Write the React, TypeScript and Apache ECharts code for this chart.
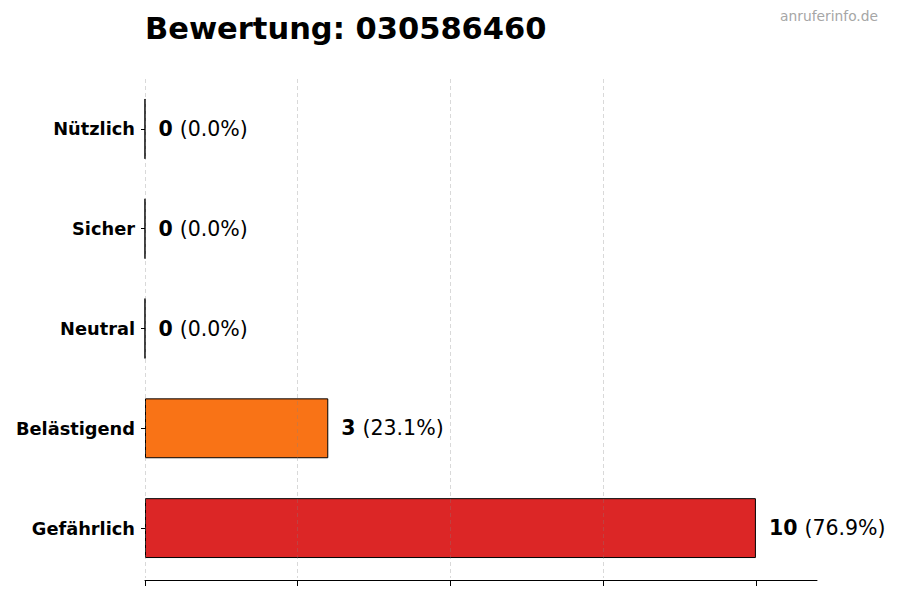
import { useEffect, useRef } from "react";
import * as echarts from "echarts";

// rating counts per category, bottom to top
const CATEGORIES = ["Gefährlich", "Belästigend", "Neutral", "Sicher", "Nützlich"];
const COUNTS = [10, 3, 0, 0, 0];
const BAR_COLORS = ["#dc2626", "#f97316", "#9ca3af", "#16a34a", "#2563eb"];
const X_TICKS = [0, 2.5, 5, 7.5, 10];
const TITLE = "Bewertung: 030586460";
const SOURCE = "anruferinfo.de";

const FONT = "DejaVu Sans";

export default function App() {
  const chartRef = useRef<HTMLDivElement>(null);

  useEffect(() => {
    if (!chartRef.current) return;
    const chart = echarts.init(chartRef.current, undefined, { renderer: "svg" });

    const total = COUNTS.reduce((a, b) => a + b, 0);

    const option: echarts.EChartsOption = {
      animation: false,
      textStyle: { fontFamily: FONT },
      grid: { left: 145, right: 83, top: 79, bottom: 22 },
      graphic: [
        {
          type: "text",
          left: 145,
          top: 13,
          style: {
            text: TITLE,
            font: `bold 30.5px "${FONT}"`,
            fill: "#000",
          },
        },
        {
          type: "text",
          right: 22,
          top: 9,
          style: {
            text: SOURCE,
            font: `13.8px "${FONT}"`,
            fill: "#a6a6a6",
          },
        },
      ],
      xAxis: {
        type: "value",
        min: 0,
        max: 11,
        interval: 2.5,
        offset: 2,
        z: 3,
        axisLine: { show: true, lineStyle: { color: "#000", width: 1 } },
        axisTick: {
          show: true,
          length: 6,
          customValues: X_TICKS,
          lineStyle: { color: "#000" },
        } as any,
        axisLabel: { show: false },
        splitLine: {
          show: true,
          showMaxLine: false,
          lineStyle: { color: "rgba(128,128,128,0.3)", type: [4, 3], width: 1 },
        } as any,
      },
      yAxis: {
        type: "category",
        data: CATEGORIES,
        axisLine: { show: false },
        axisTick: {
          show: true,
          alignWithLabel: true,
          length: 4,
          lineStyle: { color: "#000" },
        },
        axisLabel: {
          fontFamily: FONT,
          fontWeight: "bold",
          fontSize: 17.8,
          color: "#000",
          margin: 10,
        },
        splitLine: { show: false },
      },
      series: [
        {
          type: "bar",
          barWidth: "60%",
          data: COUNTS.map((v, i) => ({
            value: v,
            itemStyle: { color: BAR_COLORS[i] },
          })),
          itemStyle: { borderColor: "#000", borderWidth: 1 },
          label: {
            show: true,
            position: "right",
            distance: 13,
            formatter: (p: any) => {
              const pct = total ? ((p.value / total) * 100).toFixed(1) : "0.0";
              return `{b|${p.value}}{n|(${pct}%)}`;
            },
            rich: {
              b: { fontFamily: FONT, fontWeight: "bold", fontSize: 20.5, color: "#000" },
              n: { fontFamily: FONT, fontSize: 20.5, color: "#000", padding: [0, 0, 0, 7] },
            },
          },
        },
      ],
    };

    chart.setOption(option);
    return () => chart.dispose();
  }, []);

  return (
    <div
      ref={chartRef}
      style={{ position: "absolute", left: 0, top: 0, width: 900, height: 600, background: "#fff" }}
    />
  );
}
